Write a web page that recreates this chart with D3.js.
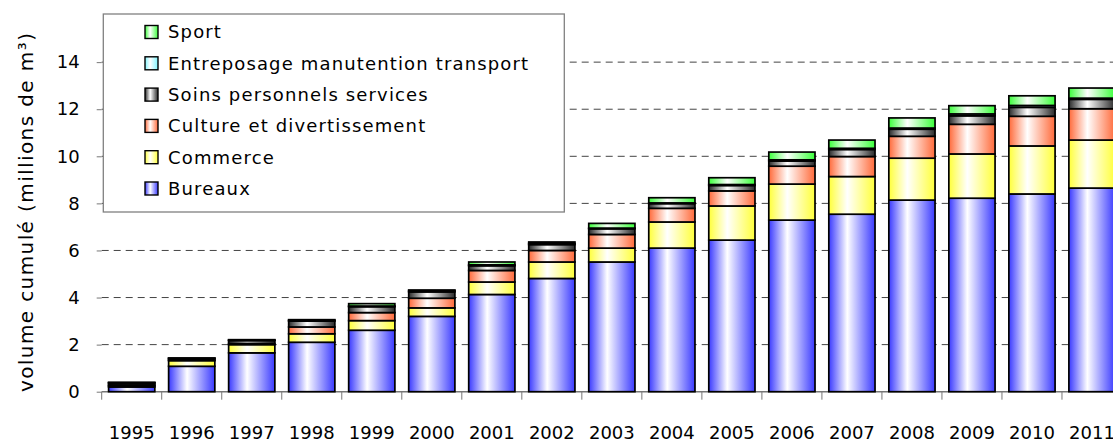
<!DOCTYPE html>
<html>
<head>
<meta charset="utf-8">
<script src="https://cdn.jsdelivr.net/npm/d3@7"></script>
<style>
    body { margin: 0; background: #fff; }
    text { font-family: "DejaVu Sans", sans-serif; fill: #000; }
</style>
</head>
<body>
<div id="chart"></div>
<script>
// Cumulative built volume by building type, 1995-2011 (millions of m3)

const years = ["1995","1996","1997","1998","1999","2000","2001","2002","2003",
               "2004","2005","2006","2007","2008","2009","2010","2011"];

const bureaux     = [0.20, 1.08, 1.65, 2.10, 2.61, 3.20, 4.13, 4.81, 5.51, 6.10, 6.44, 7.29, 7.54, 8.14, 8.22, 8.40, 8.65];
const commerce    = [0.05, 0.24, 0.35, 0.36, 0.41, 0.36, 0.53, 0.70, 0.59, 1.11, 1.45, 1.53, 1.60, 1.78, 1.88, 2.04, 2.04];
const culture     = [0.04, 0.03, 0.05, 0.29, 0.34, 0.41, 0.49, 0.49, 0.58, 0.58, 0.64, 0.76, 0.85, 0.93, 1.26, 1.26, 1.33];
const soins       = [0.08, 0.06, 0.12, 0.25, 0.25, 0.27, 0.20, 0.25, 0.24, 0.20, 0.23, 0.22, 0.30, 0.30, 0.36, 0.38, 0.40];
const entreposage = [0.01, 0.01, 0.02, 0.03, 0.03, 0.05, 0.04, 0.05, 0.03, 0.03, 0.04, 0.05, 0.05, 0.05, 0.08, 0.08, 0.05];
const sport       = [0.02, 0.01, 0.02, 0.03, 0.10, 0.03, 0.12, 0.06, 0.20, 0.22, 0.29, 0.33, 0.35, 0.43, 0.35, 0.41, 0.43];

const seriesNames = ["Bureaux", "Commerce", "Culture et divertissement",
                     "Soins personnels services", "Entreposage manutention transport", "Sport"];
const seriesValues = [bureaux, commerce, culture, soins, entreposage, sport];
const seriesColors = ["#3a3aff", "#ffff3a", "#ff6a3a", "#2a2a2a", "#7ff5ff", "#3aff3a"];

const yTicks = [0, 2, 4, 6, 8, 10, 12, 14];
const yTitle = "volume cumulé (millions de m³)";

const width = 1113,
    height = 443,
    margin = ({top: 0, right: -9, bottom: 51.3, left: 101.7});

// table for d3.stack
const table = years.map((yr, i) => {
    let row = {year: yr};
    seriesNames.forEach((k, j) => row[k] = seriesValues[j][i]);
    return row;
});

const stacked = d3.stack().keys(seriesNames)(table);

let svg = d3.select("#chart")
    .append("svg")
    .attr("width", width)
    .attr("height", height)
    .attr("viewBox", [0, 0, width, height]);

// horizontal gradients, saturated at the edges, white in the middle
const defs = svg.append("defs");
seriesColors.forEach((c, i) => {
    const g = defs.append("linearGradient")
        .attr("id", "grad" + i)
        .attr("x1", "0%").attr("x2", "100%")
        .attr("y1", "0%").attr("y2", "0%");
    g.append("stop").attr("offset", "0%").attr("stop-color", c);
    g.append("stop").attr("offset", "40%").attr("stop-color", "#fff");
    g.append("stop").attr("offset", "100%").attr("stop-color", c);
});

const x = d3.scaleBand()
    .domain(years)
    .range([margin.left, width - margin.right])
    .paddingInner(0.23)
    .paddingOuter(0.115);

const y = d3.scaleLinear()
    .domain([0, 14])
    .range([height - margin.bottom, height - margin.bottom - 14 * 23.54]);

// dashed grid lines
svg.append("g")
    .selectAll("line")
    .data(yTicks.filter(d => d > 0))
    .join("line")
    .attr("x1", margin.left)
    .attr("x2", width)
    .attr("y1", d => y(d))
    .attr("y2", d => y(d))
    .attr("stroke", "#444")
    .attr("stroke-dasharray", "7,5");

// y axis: only small ticks and labels
svg.append("g")
    .attr("transform", `translate(${margin.left},0)`)
    .call(d3.axisLeft(y).tickValues(yTicks).tickSize(5).tickPadding(17))
    .call(g => g.select(".domain").remove())
    .call(g => g.selectAll(".tick line").attr("stroke", "#777"))
    .call(g => g.selectAll(".tick text")
        .style("font-size", "18px")
        .style("font-family", "'DejaVu Sans', sans-serif"));

// x axis line and category ticks between bars
const step = x.step();
svg.append("line")
    .attr("x1", margin.left)
    .attr("x2", width)
    .attr("y1", y(0))
    .attr("y2", y(0))
    .attr("stroke", "#777")
    .attr("stroke-width", 1.5);

svg.append("g")
    .selectAll("line")
    .data(years)
    .join("line")
    .attr("x1", d => x(d) + x.bandwidth() / 2 - step / 2)
    .attr("x2", d => x(d) + x.bandwidth() / 2 - step / 2)
    .attr("y1", y(0))
    .attr("y2", y(0) + 8)
    .attr("stroke", "#777");

svg.append("g")
    .selectAll("text")
    .data(years)
    .join("text")
    .text(d => d)
    .attr("x", d => x(d) + x.bandwidth() / 2)
    .attr("y", y(0) + 47)
    .attr("text-anchor", "middle")
    .style("font-size", "18px");

// stacked bars
let layer = svg.selectAll(".layer")
    .data(stacked)
    .join("g")
    .attr("class", "layer")
    .attr("fill", (d, i) => `url(#grad${i})`);

layer.selectAll("rect")
    .data(d => d)
    .join("rect")
    .attr("x", d => x(d.data.year))
    .attr("width", x.bandwidth())
    .attr("y", d => y(d[1]))
    .attr("height", d => y(d[0]) - y(d[1]))
    .attr("stroke", "#000")
    .attr("stroke-width", 1.7);

// y axis title
svg.append("text")
    .text(yTitle)
    .attr("transform", `translate(33,${(y(0) + 32) / 2}) rotate(-90)`)
    .attr("text-anchor", "middle")
    .style("font-size", "20px")
    .style("letter-spacing", "1.4px");

// legend
const legend = svg.append("g");
legend.append("rect")
    .attr("x", 103.3)
    .attr("y", 14)
    .attr("width", 461)
    .attr("height", 198)
    .attr("fill", "#fff")
    .attr("stroke", "#808080")
    .attr("stroke-width", 1.3);

const legendOrder = d3.range(seriesNames.length).reverse();
const item = legend.selectAll(".item")
    .data(legendOrder)
    .join("g")
    .attr("class", "item")
    .attr("transform", (d, i) => `translate(145,${32 + i * 31.3})`);

item.append("rect")
    .attr("x", 0)
    .attr("y", -6.5)
    .attr("width", 13)
    .attr("height", 13)
    .attr("fill", d => `url(#grad${d})`)
    .attr("stroke", "#000")
    .attr("stroke-width", 1.4);

item.append("text")
    .text(d => seriesNames[d])
    .attr("x", 23)
    .attr("y", 6.3)
    .style("font-size", "18px")
    .style("letter-spacing", "1.15px");
</script>
</body>
</html>
